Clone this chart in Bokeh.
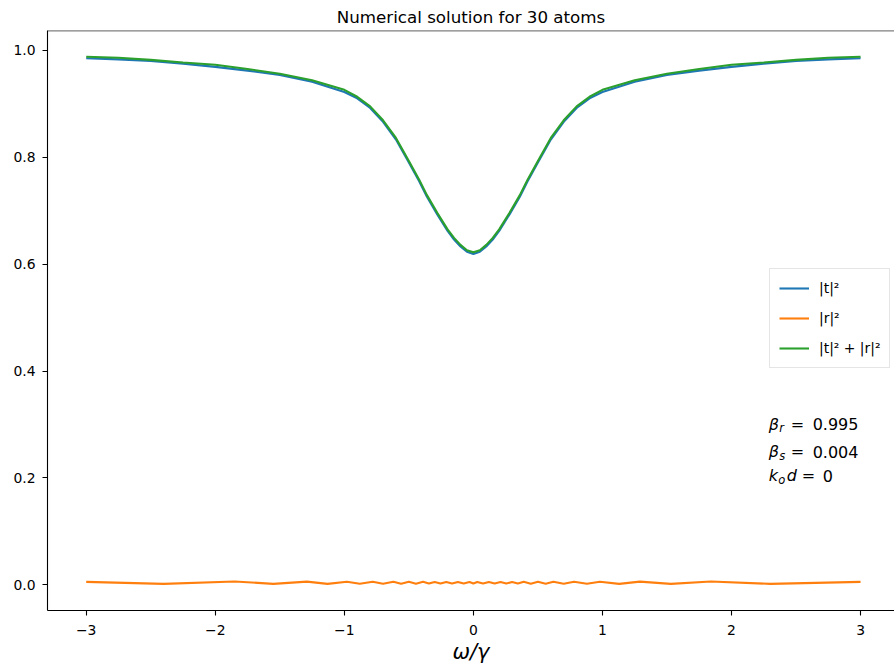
from bokeh.plotting import figure
from bokeh.models import Range1d, FixedTicker, Span, Label, Legend, LegendItem, PrintfTickFormatter
from bokeh.embed import file_html
from bokeh.resources import INLINE

# ---- data ----
t_x = [-3.0, -2.75, -2.5, -2.25, -2.0, -1.75, -1.5, -1.25, -1.0, -0.9, -0.8, -0.7, -0.6, -0.5,
       -0.42, -0.36, -0.28, -0.2, -0.15, -0.1, -0.05, 0.0, 0.05, 0.1, 0.15, 0.2, 0.28, 0.36, 0.42,
       0.5, 0.6, 0.7, 0.8, 0.9, 1.0, 1.25, 1.5, 1.75, 2.0, 2.25, 2.5, 2.75, 3.0]
t2 = [0.985, 0.983, 0.980, 0.975, 0.969, 0.962, 0.954, 0.941, 0.922, 0.910, 0.892, 0.866, 0.833, 0.790,
      0.755, 0.726, 0.693, 0.662, 0.646, 0.633, 0.623, 0.619, 0.623, 0.633, 0.646, 0.662, 0.693, 0.726,
      0.755, 0.790, 0.833, 0.866, 0.892, 0.910, 0.922, 0.941, 0.954, 0.962, 0.969, 0.975, 0.980, 0.983,
      0.985]
total = [0.988, 0.986, 0.982, 0.977, 0.973, 0.965, 0.956, 0.944, 0.926, 0.913, 0.895, 0.869, 0.836, 0.793,
         0.758, 0.729, 0.696, 0.665, 0.649, 0.636, 0.626, 0.622, 0.626, 0.636, 0.649, 0.665, 0.696, 0.729,
         0.758, 0.793, 0.836, 0.869, 0.895, 0.913, 0.926, 0.944, 0.956, 0.965, 0.973, 0.977, 0.982, 0.986,
         0.988]

r_x = [-3.0, -2.4, -1.85, -1.55, -1.29, -1.13, -0.98, -0.88, -0.78, -0.70, -0.62, -0.56, -0.50, -0.445,
       -0.39, -0.345, -0.30, -0.255, -0.21, -0.165, -0.12, -0.075, -0.03, 0.0, 0.03, 0.075, 0.12, 0.165,
       0.21, 0.255, 0.30, 0.345, 0.39, 0.445, 0.50, 0.56, 0.62, 0.70, 0.78, 0.88, 0.98, 1.13, 1.29, 1.53,
       1.84, 2.3, 3.0]
r2 = [0.0056, 0.0018, 0.0063, 0.0018, 0.0060, 0.0018, 0.0058, 0.0020, 0.0058, 0.0020, 0.0057, 0.0022,
      0.0056, 0.0022, 0.0056, 0.0023, 0.0055, 0.0024, 0.0055, 0.0025, 0.0054, 0.0025, 0.0054, 0.0026,
      0.0054, 0.0025, 0.0054, 0.0025, 0.0055, 0.0024, 0.0055, 0.0023, 0.0056, 0.0022, 0.0056, 0.0022,
      0.0057, 0.0020, 0.0058, 0.0020, 0.0058, 0.0018, 0.0060, 0.0018, 0.0063, 0.0018, 0.0056]

x_ticks = [-3, -2, -1, 0, 1, 2, 3]
x_tick_labels = ["\u22123", "\u22122", "\u22121", "0", "1", "2", "3"]
y_ticks = [0.0, 0.2, 0.4, 0.6, 0.8, 1.0]
series_labels = ["|t|\u00b2", "|r|\u00b2", "|t|\u00b2 + |r|\u00b2"]
series_colors = ["#1f77b4", "#ff7f0e", "#2ca02c"]

FONT = "DejaVu Sans"

p = figure(width=894, height=668, x_range=Range1d(-3.3, 3.263), y_range=Range1d(-0.048, 1.037),
           output_backend="svg", toolbar_location=None,
           min_border_left=47, min_border_right=0, min_border_top=30, min_border_bottom=58)
p.outline_line_color = None
p.xgrid.visible = False
p.ygrid.visible = False
p.background_fill_color = "white"
p.border_fill_color = "white"

p.title.text = "Numerical solution for 30 atoms"
p.title.align = "center"
p.title.offset = 2
p.title.text_font = FONT
p.title.text_font_size = "16.7px"
p.title.text_font_style = "normal"
p.title.text_color = "black"
p.title.standoff = 8

for ax in (p.xaxis[0], p.yaxis[0]):
    ax.axis_line_width = 1.1
    ax.axis_line_color = "black"
    ax.major_tick_line_width = 1.1
    ax.major_tick_line_color = "black"
    ax.major_tick_out = 5
    ax.major_tick_in = 0
    ax.minor_tick_out = 0
    ax.minor_tick_in = 0
    ax.major_label_text_font = FONT
    ax.major_label_text_font_size = "13.9px"
    ax.major_label_text_color = "black"

p.xaxis.major_label_standoff = 9
p.yaxis.major_label_standoff = 7
p.xaxis.ticker = FixedTicker(ticks=x_ticks)
p.xaxis.major_label_overrides = {k: v for k, v in zip(x_ticks, x_tick_labels)}
p.yaxis.ticker = FixedTicker(ticks=y_ticks)
p.yaxis.formatter = PrintfTickFormatter(format="%.1f")

p.xaxis.axis_label = "\u03c9/\u03b3"
p.xaxis.axis_label_text_font = FONT
p.xaxis.axis_label_text_font_size = "21px"
p.xaxis.axis_label_text_font_style = "italic"
p.xaxis.axis_label_text_color = "black"
p.xaxis.axis_label_standoff = 2

# top spine
p.add_layout(Span(location=1.0365, dimension="width", line_color="black", line_width=1.1))

rb = p.line(t_x, t2, line_color=series_colors[0], line_width=2.1)
ro = p.line(r_x, r2, line_color=series_colors[1], line_width=2.1)
rg = p.line(t_x, total, line_color=series_colors[2], line_width=2.1)

legend = Legend(items=[LegendItem(label=series_labels[0], renderers=[rb]),
                       LegendItem(label=series_labels[1], renderers=[ro]),
                       LegendItem(label=series_labels[2], renderers=[rg])],
                location=(722, 242))
legend.border_line_color = "#cccccc"
legend.border_line_width = 1
legend.background_fill_alpha = 0.8
legend.label_text_font = FONT
legend.label_text_font_size = "13.9px"
legend.label_text_color = "black"
legend.glyph_width = 30
legend.glyph_height = 20
legend.label_height = 20
legend.label_standoff = 10
legend.spacing = 10
legend.padding = 9
legend.margin = 0
p.add_layout(legend)

# annotation text
ann_x = 2.288
def lab(text, y, dx, dy=0, size="16px", style="normal"):
    p.add_layout(Label(x=ann_x, y=y, x_offset=dx, y_offset=dy, text=text, text_font=FONT,
                       text_font_size=size, text_font_style=style, text_color="black",
                       text_baseline="alphabetic", text_align="left"))

lab("\u03b2", 0.300, 0, style="italic")
lab("r", 0.300, 10.5, dy=-4, size="11.5px", style="italic")
lab("=", 0.300, 22)
lab("0.995", 0.300, 44)

lab("\u03b2", 0.249, 0, style="italic")
lab("s", 0.249, 10.5, dy=-4, size="11.5px", style="italic")
lab("=", 0.249, 22)
lab("0.004", 0.249, 44)

lab("k", 0.204, 0, style="italic")
lab("o", 0.204, 9.5, dy=-4, size="11.5px", style="italic")
lab("d", 0.204, 18, style="italic")
lab("=", 0.204, 33)
lab("0", 0.204, 54)

open("out.html", "w").write(file_html(p, INLINE))
